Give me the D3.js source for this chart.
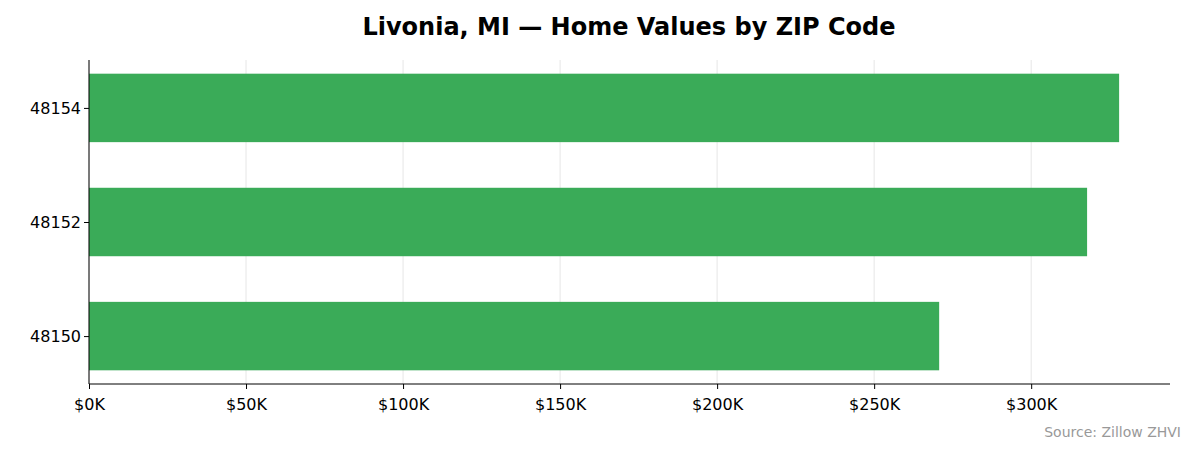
<!DOCTYPE html>
<html><head><meta charset="utf-8">
<script src="https://cdn.jsdelivr.net/npm/d3@7"></script>
<style>body{margin:0;background:#fff;font-family:"DejaVu Sans",sans-serif;}</style>
</head><body><svg id="c" width="1195" height="455"></svg>
<script>
const zips = ["48150","48152","48154"];
const values = [270.7, 317.8, 328.0];
const ticks = [0,50,100,150,200,250,300];
const title = "Livonia, MI — Home Values by ZIP Code";
const source = "Source: Zillow ZHVI";

const svg = d3.select("#c");
const L=89, R=1170, T=60, B=384;
const x = d3.scaleLinear().domain([0,344.2]).range([L,R]);
const y = d3.scaleLinear().domain([-0.42,2.42]).range([B,T]);
const bh = y(0)-y(0.6);

svg.append("g").selectAll("line").data(ticks).join("line")
  .attr("x1",d=>x(d)).attr("x2",d=>x(d)).attr("y1",T).attr("y2",B)
  .attr("stroke","#e6e6e6").attr("stroke-width",1);

svg.append("g").selectAll("rect").data(values).join("rect")
  .attr("x",x(0)).attr("y",(d,i)=>y(i)-bh/2).attr("width",d=>x(d)-x(0)).attr("height",bh)
  .attr("fill","#34a853").attr("fill-opacity",0.97);

const xa = svg.append("g").attr("transform",`translate(0,${B})`)
  .call(d3.axisBottom(x).tickValues(ticks).tickFormat(d=>`$${d}K`).tickSize(5).tickSizeOuter(0));
const ya = svg.append("g").attr("transform",`translate(${L},0)`)
  .call(d3.axisLeft(y).tickValues([0,1,2]).tickFormat(i=>zips[i]).tickSize(5).tickSizeOuter(0));
xa.select(".domain").attr("d",`M${L},0H${R}`);
ya.select(".domain").attr("d",`M0,${T}V${B}`);
[xa,ya].forEach(a=>{a.selectAll("text").attr("font-size",16).attr("font-family","DejaVu Sans").attr("fill","#000");a.selectAll("line,path").attr("stroke","#000");});
xa.selectAll("text").attr("dy","1.1em");

svg.append("text").attr("x",629).attr("y",35).attr("text-anchor","middle")
  .attr("font-size",24).attr("font-weight","bold").text(title);
svg.append("text").attr("x",1181).attr("y",437).attr("text-anchor","end")
  .attr("font-size",14).attr("fill","#999").text(source);
</script></body></html>
